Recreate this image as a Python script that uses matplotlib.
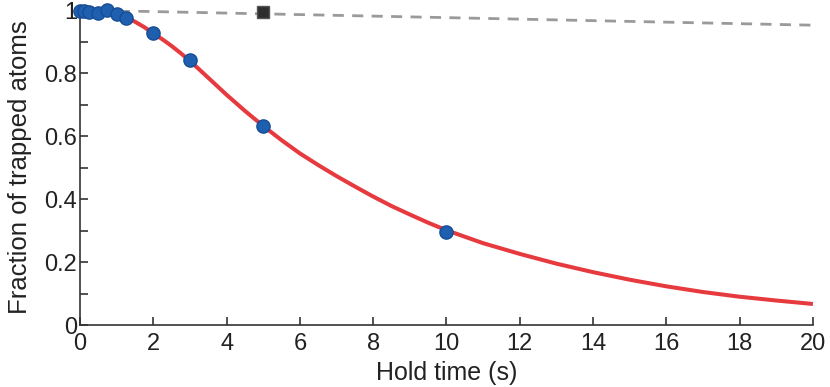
import matplotlib
matplotlib.use("Agg")
import matplotlib.pyplot as plt
from matplotlib.ticker import MultipleLocator, FixedLocator

plt.rcParams['font.family'] = ['Liberation Sans', 'DejaVu Sans']

# Measured data (blue circles)
data_t = [0.0, 0.1, 0.25, 0.5, 0.75, 1.0, 1.25, 2.0, 3.0, 5.0, 10.0]
data_f = [0.998, 0.997, 0.993, 0.992, 1.0, 0.986, 0.974, 0.926, 0.843, 0.632, 0.295]

# Reference point (dark square)
ref_t = [5.0]
ref_f = [0.994]

# Fit curve (red)
fit_t = [0, 0.5, 1.0, 1.25, 1.5, 1.75, 2.0, 2.25, 2.5, 2.75, 3.0, 3.25, 3.5, 3.75,
         4.0, 4.5, 5.0, 5.5, 6.0, 6.5, 7.0, 7.5, 8.0, 8.5, 9.0, 9.5, 10, 11, 12,
         13, 14, 15, 16, 17, 18, 19, 20]
fit_f = [1.0, 0.997, 0.988, 0.978, 0.963, 0.946, 0.926, 0.907, 0.886, 0.863, 0.838,
         0.812, 0.785, 0.758, 0.731, 0.680, 0.632, 0.587, 0.545, 0.508, 0.473,
         0.440, 0.408, 0.378, 0.351, 0.325, 0.301, 0.260, 0.226, 0.195, 0.168,
         0.144, 0.123, 0.105, 0.090, 0.078, 0.067]

# Reference decay (grey dashed)
bg_t = [0, 20]
bg_f = [1.0, 0.952]

x_ticks = [0, 2, 4, 6, 8, 10, 12, 14, 16, 18, 20]
y_ticks = [0, 0.2, 0.4, 0.6, 0.8, 1.0]
y_ticklabels = ['0', '0.2', '0.4', '0.6', '0.8', '1']

fig = plt.figure(figsize=(8.3, 3.87), dpi=100)
ax = fig.add_axes([0.0964, 0.160, 0.883, 0.814])

ax.plot(bg_t, bg_f, color='#9a9a9a', lw=2.0, ls=(0, (4, 3)), zorder=2)
ax.plot(fit_t, fit_f, color='#e63a3e', lw=2.9, zorder=3, solid_capstyle='butt',
        solid_joinstyle='round')
ax.plot(data_t, data_f, 'o', ms=9.5, mfc='#1f5fb0', mec='#164d96', mew=1.0,
        zorder=5, clip_on=False)
ax.plot(ref_t, ref_f, 's', ms=9, mfc='#2e2e2e', mec='#555555', mew=1.0,
        zorder=5, clip_on=False)

ax.set_xlim(0, 20)
ax.set_ylim(0, 1)
ax.xaxis.set_major_locator(FixedLocator(x_ticks))
ax.yaxis.set_major_locator(FixedLocator(y_ticks))
ax.set_yticklabels(y_ticklabels)
ax.yaxis.set_minor_locator(MultipleLocator(0.1))

for s in ['top', 'right']:
    ax.spines[s].set_visible(False)
for s in ['left', 'bottom']:
    ax.spines[s].set_color('#333333')
    ax.spines[s].set_linewidth(1.2)

ax.tick_params(axis='both', which='major', direction='in', length=6, width=1.2,
               color='#333333', labelsize=17, labelcolor='#222222')
ax.tick_params(axis='y', which='major', pad=2)
ax.tick_params(axis='x', which='major', pad=6)
ax.tick_params(axis='y', which='minor', direction='in', length=6, width=1.2,
               color='#333333')
ax.tick_params(axis='x', which='minor', bottom=False)

ax.set_xlabel('Hold time (s)', fontsize=18, color='#222222', labelpad=4)
ax.set_ylabel('Fraction of trapped atoms', fontsize=18.5, color='#222222', labelpad=9)

fig.savefig('out.png', dpi=100)
